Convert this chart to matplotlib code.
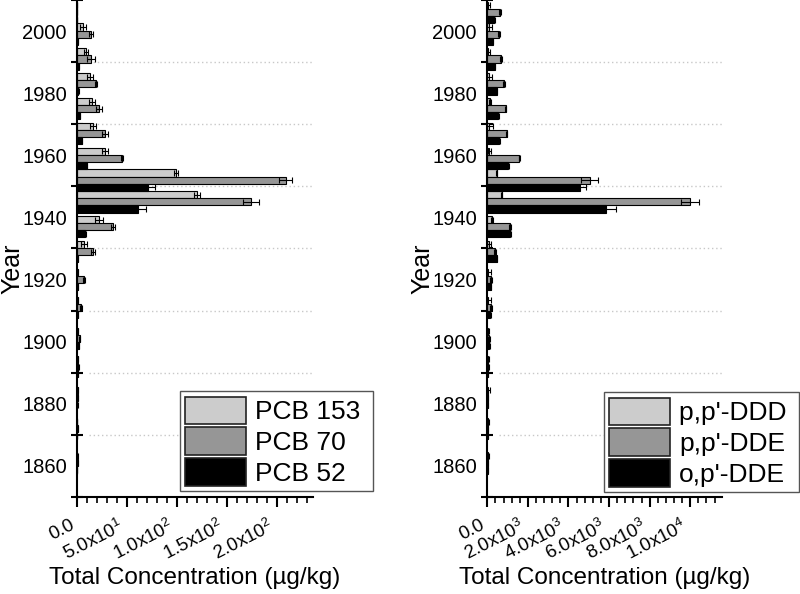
import matplotlib

matplotlib.use("Agg")
import matplotlib.pyplot as plt
from matplotlib.patches import Patch
import numpy as np

plt.rcParams["font.family"] = "Liberation Sans"
plt.rcParams["mathtext.fontset"] = "custom"
plt.rcParams["mathtext.rm"] = "Liberation Sans"
plt.rcParams["mathtext.it"] = "Liberation Sans:italic"

# sample dates (one group of three bars per core slice)
years = [2006, 1999, 1991, 1983, 1975, 1967, 1959, 1952, 1945,
         1937, 1929, 1920, 1911, 1901, 1892, 1882, 1872, 1861]

# PCBs (ug/kg)
pcb153 = [0, 6, 8.7, 12.7, 15, 15.3, 28, 98.7, 120, 22, 6.7, 0.5, 0.5, 0.5, 0.3, 0.3, 0, 0.2]
pcb153_err = [0, 3, 2, 3, 3, 3, 3, 2, 3, 4, 3, 0.5, 0.5, 0.3, 0.3, 0.3, 0, 0.3]
pcb70 = [0, 13.3, 14, 18.7, 22, 27.3, 45, 208.7, 174.3, 35.3, 15.3, 6.7, 4, 2.5, 1, 0.5, 0.3, 0.3]
pcb70_err = [0, 2, 4, 1, 3, 3, 1, 6.5, 8, 2, 2, 1, 1, 0.5, 0.5, 0.3, 0.3, 0.3]
pcb52 = [0, 0.5, 1.3, 1, 2.7, 4.3, 9.3, 71, 61, 8, 0.5, 0.3, 0.3, 1.5, 0.3, 0.2, 0.1, 0.1]
pcb52_err = [0, 0.3, 0.5, 0.5, 0.5, 0.5, 0.5, 7, 8, 0.5, 0.3, 0.3, 0.3, 0.3, 0.3, 0.2, 0.1, 0.1]

# DDT metabolites (ug/kg)
ddd_pp = [30, 100, 50, 100, 130, 100, 98, 459, 705, 213, 100, 60, 50, 30, 30, 30, 20, 20]
ddd_pp_err = [100, 150, 100, 150, 50, 200, 80, 40, 40, 50, 100, 100, 120, 60, 60, 80, 50, 60]
dde_pp = [623, 574, 672, 836, 902, 951, 1574, 5051, 9971, 1115, 377, 180, 160, 100, 40, 30, 20, 20]
dde_pp_err = [50, 50, 30, 50, 30, 30, 30, 410, 445, 30, 30, 50, 50, 50, 50, 30, 30, 30]
dde_op = [344, 262, 361, 459, 541, 590, 1017, 4559, 5838, 1115, 459, 164, 150, 80, 30, 20, 20, 20]
dde_op_err = [30, 30, 30, 30, 30, 30, 30, 295, 525, 30, 30, 30, 30, 30, 30, 30, 30, 30]

pcb_labels = ["PCB 153 ", "PCB 70", "PCB 52"]
ddt_labels = ["p,p'-DDD ", "p,p'-DDE", "o,p'-DDE"]
pcb_ticks = [0, 50, 100, 150, 200]
pcb_ticklabels = ["0.0", r"5.0x10$^{1}$", r"1.0x10$^{2}$", r"1.5x10$^{2}$", r"2.0x10$^{2}$"]
ddt_ticks = [0, 2000, 4000, 6000, 8000, 10000]
ddt_ticklabels = ["0.0", r"2.0x10$^{3}$", r"4.0x10$^{3}$", r"6.0x10$^{3}$",
                  r"8.0x10$^{3}$", r"1.0x10$^{4}$"]

colors = ["#cccccc", "#969696", "#000000"]
bar_h = 2.3


def draw_panel(ax, series, errs, labels, xmax, ticks, ticklabels, minor_step, legend_xy):
    y = np.array(years, dtype=float)
    offsets = [bar_h, 0, -bar_h]
    for vals, err, off, col in zip(series, errs, offsets, colors):
        ax.barh(y + off, vals, height=bar_h, xerr=err, color=col,
                edgecolor="black", linewidth=0.8, zorder=2,
                error_kw=dict(ecolor="black", elinewidth=0.8, capsize=2.5,
                              capthick=0.8, zorder=3))

    ax.set_xlim(0, xmax)
    ax.set_ylim(1850, 2010)
    ax.set_xticks(ticks)
    ax.set_xticklabels(ticklabels)
    ax.set_xticks(np.arange(0, xmax, minor_step), minor=True)
    plt.setp(ax.get_xticklabels(), rotation=27, ha="right", va="top")
    ax.tick_params(axis="x", which="major", direction="out", length=7, width=1.5,
                   labelsize=13.5, pad=7)
    ax.tick_params(axis="x", which="minor", direction="out", length=4, width=1.2)

    ax.set_yticks(np.arange(1860, 2001, 20))
    ax.set_yticks(np.arange(1850, 2011, 20), minor=True)
    ax.tick_params(axis="y", which="major", length=0, labelsize=14.5, pad=7.5)
    ax.tick_params(axis="y", which="minor", direction="inout", length=8, width=1.5)
    # dotted guides at the interior decade-boundary ticks
    for yy in np.arange(1870, 2000, 20):
        ax.axhline(yy, xmin=0.05, color="#c8c8c8", linestyle=(0, (1, 2)),
                   linewidth=1, zorder=0)

    for side in ["top", "right"]:
        ax.spines[side].set_visible(False)
    for side in ["left", "bottom"]:
        ax.spines[side].set_linewidth(1.5)

    ax.set_ylabel("Year", fontsize=18)
    ax.yaxis.set_label_coords(-0.225, 0.46)
    ax.set_xlabel("Total Concentration (\u00b5g/kg)", fontsize=17.5, labelpad=2)

    handles = [Patch(facecolor=c, edgecolor="#222222", linewidth=1.2) for c in colors]
    ax.legend(handles, labels, loc="lower left", bbox_to_anchor=legend_xy,
              bbox_transform=ax.figure.transFigure, borderaxespad=0,
              fontsize=19, handlelength=2.3, handleheight=1.22, labelspacing=0.12,
              handletextpad=0.35, borderpad=0.2, fancybox=False,
              edgecolor="#555555", framealpha=1)


fig = plt.figure(figsize=(8, 5.94), dpi=100)
ax1 = fig.add_axes([0.0966, 0.1633, 0.2946, 0.8367])
ax2 = fig.add_axes([0.6091, 0.1633, 0.2930, 0.8367])

draw_panel(ax1, [pcb153, pcb70, pcb52], [pcb153_err, pcb70_err, pcb52_err],
           pcb_labels, 236, pcb_ticks, pcb_ticklabels, 10, (0.225, 0.1734))
draw_panel(ax2, [ddd_pp, dde_pp, dde_op], [ddd_pp_err, dde_pp_err, dde_op_err],
           ddt_labels, 11550, ddt_ticks, ddt_ticklabels, 400, (0.755, 0.1717))

fig.savefig("out.png", dpi=100)
plt.close(fig)
